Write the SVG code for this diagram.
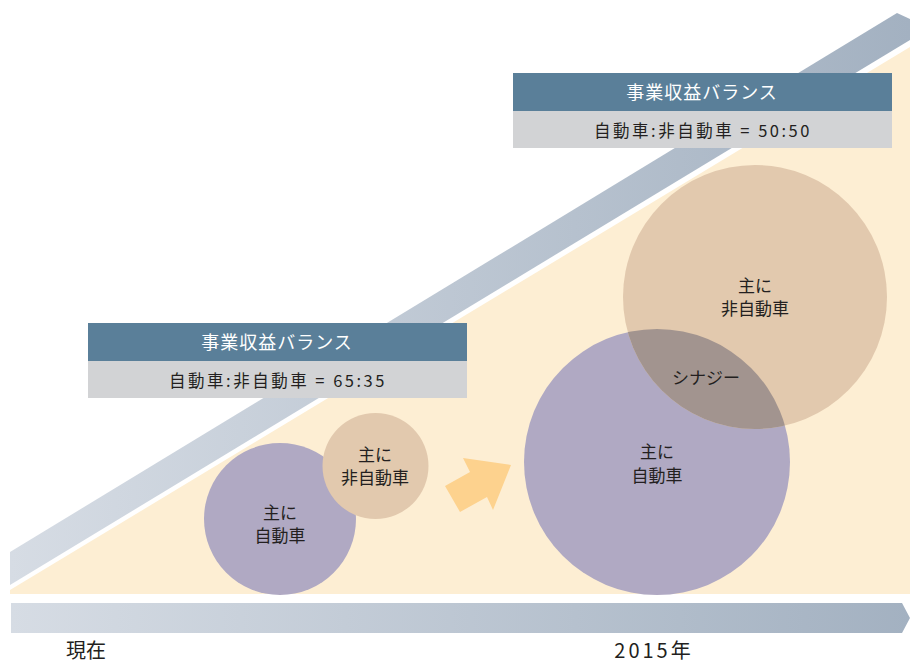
<svg xmlns="http://www.w3.org/2000/svg" width="910" height="665" viewBox="0 0 910 665">
<defs>
<linearGradient id="gband" x1="0" y1="0" x2="1" y2="0">
<stop offset="0" stop-color="#d6dce4"/>
<stop offset="1" stop-color="#a3b1c1"/>
</linearGradient>
<linearGradient id="gbar" x1="0" y1="0" x2="1" y2="0">
<stop offset="0" stop-color="#d6dce4"/>
<stop offset="1" stop-color="#a3b1c1"/>
</linearGradient>
<clipPath id="bigTanClip"><circle cx="755" cy="297" r="132"/></clipPath>
</defs>
<style>
text{font-family:"Noto Sans CJK JP","Liberation Sans",sans-serif;text-anchor:middle;fill:#231f20}
.hd{fill:#5a7f99}
.sub{fill:#d2d3d5}
.hdt{fill:#ffffff;font-size:18px;letter-spacing:1px}
.subt{font-size:16.5px;letter-spacing:2.5px}
.lbl{font-size:17px}
.purple{fill:#b0a9c3}
.tan{fill:#e2c9ae}
.bottom{font-size:20px}
</style>
<rect width="910" height="665" fill="#ffffff"/>
<g id="band">
<polygon points="10,552 897,13 910,19 910,40 10,585" fill="url(#gband)"/>
</g>
<g id="area">
<polygon points="10,590 910,47 910,594 10,594" fill="#fdeed3"/>
</g>
<g id="timeline">
<polygon points="11,603 902,603 910,618 902,633 11,633" fill="url(#gbar)"/>
</g>
<g id="now-circles">
<g id="now-auto">
<circle class="purple" cx="280" cy="519" r="76"/>
<text class="lbl" x="280" y="519">主に</text>
<text class="lbl" x="280" y="542">自動車</text>
</g>
<g id="now-nonauto">
<circle class="tan" cx="375.5" cy="466" r="53"/>
<text class="lbl" x="375" y="461">主に</text>
<text class="lbl" x="375" y="484">非自動車</text>
</g>
</g>
<g id="arrow">
<polygon points="445,486 470,472 463,458 511,465 493,510 487,497 460,512" fill="#fdd28e"/>
</g>
<g id="future-circles">
<g id="future-auto">
<circle class="purple" cx="657" cy="462" r="133"/>
</g>
<g id="future-nonauto">
<circle class="tan" cx="755" cy="297" r="132"/>
</g>
<g id="synergy">
<circle cx="657" cy="462" r="133" fill="#a2948f" clip-path="url(#bigTanClip)"/>
<text class="lbl" x="706" y="384">シナジー</text>
</g>
<text class="lbl" x="755" y="292">主に</text>
<text class="lbl" x="755" y="315">非自動車</text>
<text class="lbl" x="657" y="458">主に</text>
<text class="lbl" x="657" y="482">自動車</text>
</g>
<g id="balance-now">
<rect class="hd" x="88" y="323" width="379" height="38"/>
<rect class="sub" x="88" y="361" width="379" height="37"/>
<text class="hdt" x="277" y="349">事業収益バランス</text>
<text class="subt" x="278" y="387">自動車:非自動車 = 65:35</text>
</g>
<g id="balance-2015">
<rect class="hd" x="513" y="73" width="379" height="38"/>
<rect class="sub" x="513" y="111" width="379" height="37"/>
<text class="hdt" x="702" y="99">事業収益バランス</text>
<text class="subt" x="703" y="137">自動車:非自動車 = 50:50</text>
</g>
<g id="labels">
<text class="bottom" x="86" y="658">現在</text>
<text class="bottom" x="654" y="658" style="letter-spacing:3px">2015年</text>
</g>
</svg>
